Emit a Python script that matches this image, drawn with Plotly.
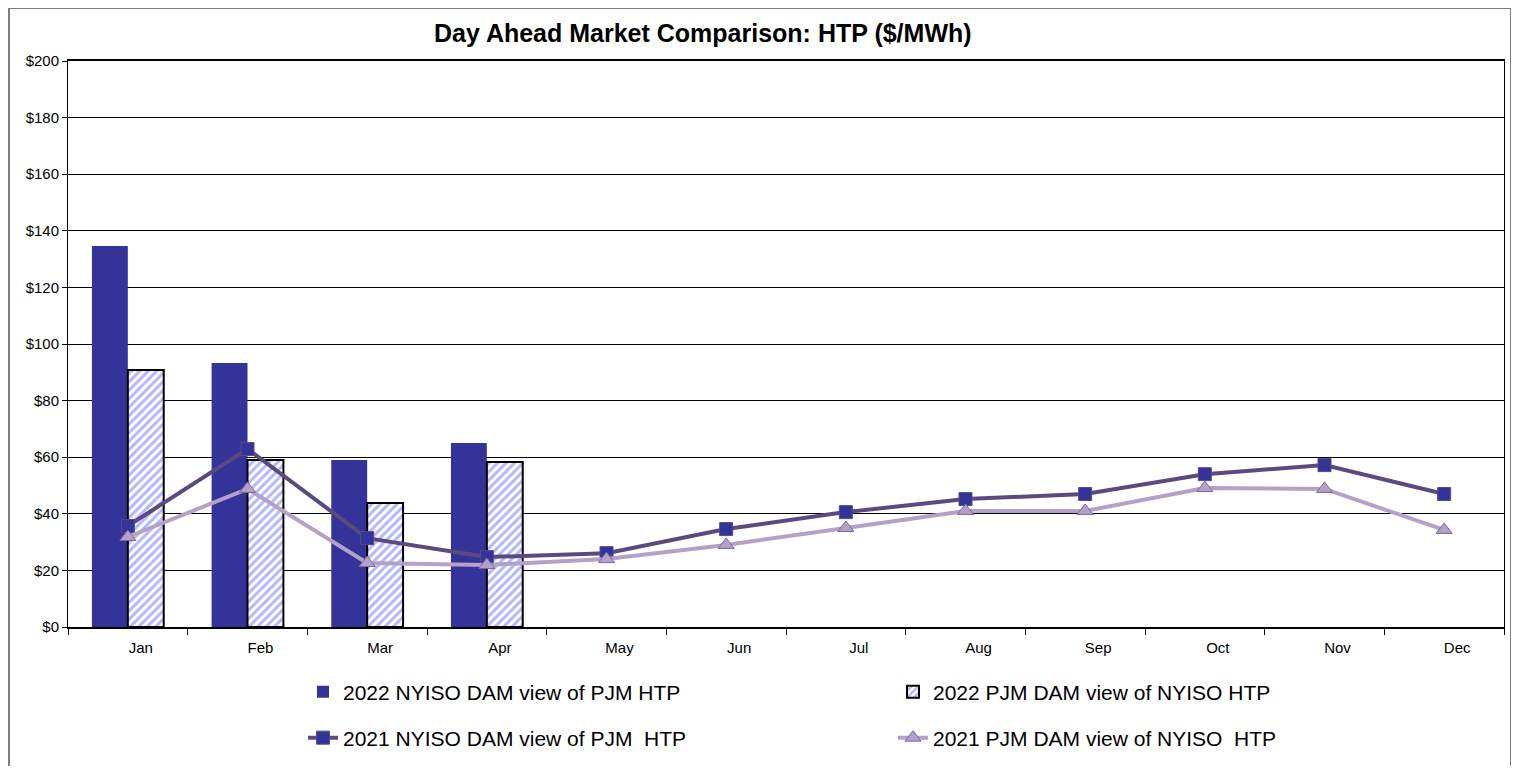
import plotly.graph_objects as go

months = ["Jan", "Feb", "Mar", "Apr", "May", "Jun", "Jul", "Aug", "Sep", "Oct", "Nov", "Dec"]
nyiso_2022 = [134.6, 93.3, 59.0, 65.0]
pjm_2022 = [90.8, 59.0, 43.8, 58.3]
nyiso_2021 = [35.7, 62.9, 31.4, 24.7, 26.1, 34.6, 40.6, 45.2, 47.0, 54.0, 57.2, 47.0]
pjm_2021 = [31.8, 48.8, 22.6, 21.9, 24.0, 29.0, 35.0, 41.0, 41.0, 49.1, 48.8, 34.3]

FONT = "Liberation Sans, Arial, sans-serif"

# page body has an 8px margin; figure coordinates = page coordinates - 8
OFF = 8
W, H = 1519 - 2 * OFF, 774 - 2 * OFF
L, T = 68 - OFF, 61 - OFF
R = W - (1504 - OFF)
B = H - (627 - OFF)
pw, ph = W - L - R, H - T - B

def px_x(p):
    return (p - OFF - L) / pw

def px_y(p):
    return (H - B - (p - OFF)) / ph

fig = go.Figure()
fig.add_trace(go.Bar(
    x=months[:len(nyiso_2022)], y=nyiso_2022, name="2022 NYISO DAM view of PJM HTP",
    marker=dict(color="#333399", line=dict(width=0)), width=0.3, offset=-0.3,
    legend="legend",
))
fig.add_trace(go.Bar(
    x=months[:len(pjm_2022)], y=pjm_2022, name="2022 PJM DAM view of NYISO HTP",
    marker=dict(color="white", line=dict(color="black", width=2),
                pattern=dict(shape="/", fgcolor="#6B6BFF", bgcolor="white", size=6, solidity=0.5)),
    width=0.3, offset=0.0, legend="legend",
))
fig.add_trace(go.Scatter(
    x=months, y=nyiso_2021, name="2021 NYISO DAM view of PJM  HTP", mode="lines+markers",
    line=dict(color="#5B4A80", width=4),
    marker=dict(symbol="square", size=13, color="#333399", line=dict(color="#5B4A80", width=1)),
    legend="legend2",
))
fig.add_trace(go.Scatter(
    x=months, y=pjm_2021, name="2021 PJM DAM view of NYISO  HTP", mode="lines+markers",
    line=dict(color="#B3A2C7", width=4),
    marker=dict(symbol="triangle-up", size=14, color="#B3A2C7", line=dict(color="#8064A2", width=1)),
    legend="legend2",
))

legend_common = dict(
    orientation="h", xanchor="left", yanchor="middle",
    entrywidth=545, entrywidthmode="pixels",
    font=dict(size=21, family=FONT, color="black"), traceorder="normal",
    bgcolor="rgba(0,0,0,0)",
)

fig.update_layout(
    width=W, height=H,
    margin=dict(l=L, r=R, t=T, b=B, autoexpand=False),
    paper_bgcolor="white", plot_bgcolor="white",
    font=dict(family=FONT, color="black", size=15),
    barmode="overlay",
    showlegend=True,
    legend=dict(x=px_x(303), y=px_y(692), **legend_common),
    legend2=dict(x=px_x(303), y=px_y(738), **legend_common),
    annotations=[dict(
        text="<b>Day Ahead Market Comparison: HTP ($/MWh)</b>",
        x=px_x(703), y=px_y(33), xref="paper", yref="paper",
        xanchor="center", yanchor="middle", showarrow=False,
        font=dict(size=25, family=FONT, color="black"),
    )],
    shapes=[dict(
        type="rect", xref="paper", yref="paper",
        x0=px_x(9), x1=px_x(1511), y0=px_y(820), y1=px_y(8),
        line=dict(color="#7f7f7f", width=2), fillcolor="rgba(0,0,0,0)", layer="below",
    )],
)
fig.update_xaxes(
    type="category", categoryorder="array", categoryarray=months,
    range=[-0.5, 11.5], tickson="boundaries", ticks="outside", ticklen=6, tickcolor="black",
    showgrid=False, showline=True, linecolor="black", linewidth=2, mirror=True,
    tickfont=dict(size=15, family=FONT), ticklabelshift=13, ticklabelstandoff=6,
)
fig.update_yaxes(
    range=[0, 200], dtick=20, tickprefix="$", ticks="outside", ticklen=5, tickcolor="black",
    showgrid=True, gridcolor="black", gridwidth=1, showline=True, linecolor="black",
    linewidth=1, mirror=True, zeroline=False,
    tickfont=dict(size=15, family=FONT),
)

fig.write_html("out.html")
